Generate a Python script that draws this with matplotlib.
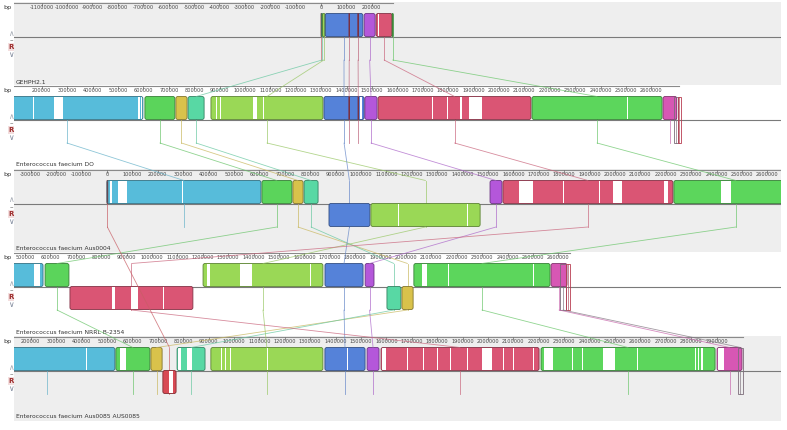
"""Mauve-style LCB alignment view of five Enterococcus genomes."""

import matplotlib

matplotlib.use("Agg")
import matplotlib.pyplot as plt
from matplotlib.colors import to_rgb
from matplotlib.patches import ConnectionPatch, FancyBboxPatch, Rectangle
from matplotlib.transforms import Bbox, TransformedBbox

# ---- data (kb) -------------------------------------------------------------
GENOME_NAMES = [
    "GEHPH2.1",
    "Enterococcus faecium DO",
    "Enterococcus faecium Aus0004",
    "Enterococcus faecium NRRL B-2354",
    "Enterococcus faecium Aus0085 AUS0085",
]
GENOME_LEN_KB = [285, 2710, 2955, 2645, 3004]
VIEW_START_KB = [-1208.7, 90.6, -366.1, 456.7, 133.9]
RULER_KB = [
    list(range(-1100, 201, 100)),
    list(range(200, 2601, 100)),
    list(range(-300, 2601, 100)),
    list(range(500, 2601, 100)),
    list(range(200, 2901, 100)),
]

LCB_COLORS = {
    "cyan": "#57bcda",
    "green": "#5bd45b",
    "yellow": "#d9c24b",
    "teal": "#58d8a4",
    "lime": "#9ad856",
    "blue": "#5582d9",
    "purple": "#b457da",
    "red": "#da5574",
    "green2": "#5cd65c",
    "magenta": "#d757b4",
    "red0": "#d8505a",
    "red2": "#d84a54",
    "tick1": "#c8506e",
    "tick2": "#c8506e",
    "box1": "#7c6c7a",
    "box2": "#b83c50",
}

# (lcb, start_kb, end_kb, strand)   strand 0 = small outlined block
GEHPH_BLOCKS = [
    ("red0", 0, 2, 1), ("teal", 2, 6, 1), ("lime", 6, 16, 1),
    ("blue", 16, 165, 1), ("tick1", 110, 112, 1), ("tick2", 145, 147, 1),
    ("purple", 170, 213, 1), ("red", 217, 280, 1), ("green2", 280, 284, 1),
]
DO_BLOCKS = [
    ("cyan", 0, 598, 1), ("green", 606, 724, 1), ("yellow", 728, 772, 1),
    ("teal", 776, 839, 1), ("lime", 866, 1307, 1), ("blue", 1311, 1469, 1),
    ("tick1", 1409, 1411, 1), ("tick2", 1445, 1447, 1),
    ("purple", 1472, 1520, 1), ("red", 1524, 2126, 1), ("green2", 2130, 2642, 1),
    ("magenta", 2646, 2700, 1), ("box1", 2690, 2703, 0), ("box2", 2703, 2716, 0),
]
AUS0004_BLOCKS = [
    ("red2", 0, 3, 1), ("cyan", 0, 606, 1), ("green", 610, 728, 1),
    ("yellow", 732, 772, 1), ("teal", 776, 831, 1), ("blue", 874, 1035, -1),
    ("lime", 1039, 1469, -1), ("purple", 1508, 1555, 1), ("red", 1559, 2228, 1),
    ("green2", 2232, 2720, 1), ("magenta", 2725, 2790, 1),
    ("box1", 2790, 2800, 0), ("box2", 2800, 2810, 0),
]
NRRL_BLOCKS = [
    ("cyan", 0, 571, 1), ("green", 579, 673, 1), ("red", 677, 1161, -1),
    ("lime", 1201, 1673, 1), ("blue", 1681, 1831, 1), ("purple", 1839, 1874, 1),
    ("teal", 1925, 1980, -1), ("yellow", 1984, 2028, -1), ("green2", 2031, 2567, 1),
    ("magenta", 2571, 2634, 1), ("box1", 2606, 2630, 0), ("box2", 2630, 2646, 0),
]
AUS0085_BLOCKS = [
    ("cyan", 0, 531, 1), ("green", 535, 669, 1), ("yellow", 673, 717, 1),
    ("red2", 720, 772, -1), ("teal", 776, 886, 1), ("lime", 909, 1350, 1),
    ("blue", 1358, 1516, 1), ("purple", 1524, 1571, 1), ("red", 1579, 2201, 1),
    ("green2", 2209, 2894, 1), ("magenta", 2902, 3000, 1), ("box1", 2984, 3004, 0),
]

# low-similarity (white) stretches inside blocks
GEHPH_GAPS = [(224, 229)]
DO_GAPS = [
    (165, 168), (248, 283), (579, 586), (590, 595), (886, 890), (902, 905),
    (1031, 1047), (1071, 1074), (1453, 1460), (1736, 1739), (1795, 1798),
    (1846, 1853), (1882, 1933), (2504, 2507),
]
AUS0004_GAPS = [
    (12, 20), (43, 79), (295, 299), (1146, 1150), (1417, 1420), (1428, 1431),
    (1622, 1677), (1795, 1798), (1937, 1940), (1992, 2028), (2193, 2209),
    (2417, 2457),
]
NRRL_GAPS = [
    (535, 559), (843, 854), (917, 945), (1043, 1047), (1217, 1228),
    (1346, 1394), (1622, 1626), (2063, 2083), (2165, 2168), (2500, 2503),
]
AUS0085_GAPS = [
    (417, 420), (551, 575), (744, 760), (780, 791), (815, 835), (949, 952),
    (965, 968), (984, 987), (1130, 1133), (1445, 1448), (1581, 1600),
    (1681, 1684), (1744, 1747), (1799, 1802), (1850, 1853), (1917, 1920),
    (1976, 2016), (2059, 2062), (2098, 2101), (2177, 2180), (2220, 2256),
    (2331, 2334), (2370, 2373), (2453, 2500), (2587, 2590), (2815, 2819),
    (2826, 2830), (2840, 2846), (2906, 2929),
]

BLOCKS = [GEHPH_BLOCKS, DO_BLOCKS, AUS0004_BLOCKS, NRRL_BLOCKS, AUS0085_BLOCKS]
GAPS = [GEHPH_GAPS, DO_GAPS, AUS0004_GAPS, NRRL_GAPS, AUS0085_GAPS]

# ---- layout (pixels) -------------------------------------------------------
W_PX, H_PX, DPI = 787, 430, 100
PX_PER_KB = 0.254
LEFT_PX, RIGHT_PX = 14, 781
PANEL_TOPS_PX = [3, 86, 170, 253, 337]
PANEL_BG = ["#eeeeee", "#ffffff", "#eeeeee", "#ffffff", "#eeeeee"]
UP_Y0, MID_Y, LOW_Y1 = 10.5, 33.5, 56.5
LINE_Y0, LINE_Y1 = 10.5, 57.0
CORNER_KB = 2.0 / PX_PER_KB


def darker(c, f=0.6):
    r, g, b = to_rgb(c)
    return (r * f, g * f, b * f)


def softer(c, f=0.25):
    r, g, b = to_rgb(c)
    return (r + (0.6 - r) * f, g + (0.6 - g) * f, b + (0.6 - b) * f)


fig = plt.figure(figsize=(W_PX / DPI, H_PX / DPI), dpi=DPI)
fig.patch.set_facecolor("white")
plt.rcParams["font.family"] = ["DejaVu Sans"]

view_kb = (RIGHT_PX - LEFT_PX) / PX_PER_KB
axes = []
for gi, top in enumerate(PANEL_TOPS_PX):
    ax = fig.add_axes([LEFT_PX / W_PX, 1 - (top + 84) / H_PX,
                       (RIGHT_PX - LEFT_PX) / W_PX, 85 / H_PX])
    ax.set_xlim(VIEW_START_KB[gi], VIEW_START_KB[gi] + view_kb)
    ax.set_ylim(84, -1)
    ax.set_facecolor(PANEL_BG[gi])
    ax.set_xticks([])
    ax.set_yticks([])
    for sp in ax.spines.values():
        sp.set_visible(False)
    axes.append(ax)

    # ruler
    ax.plot([VIEW_START_KB[gi], GENOME_LEN_KB[gi]], [0, 0], color="#8a8a8a", lw=0.8)
    ax.vlines(RULER_KB[gi], 0, 2.5, color="#666666", lw=0.5)
    for k in RULER_KB[gi]:
        ax.text(k, 4.6, f"{k * 1000}", ha="center", va="center", fontsize=3.6,
                color="#444444", clip_on=True)
    # centre line
    ax.axhline(MID_Y, color="#7a7a7a", lw=0.8, zorder=1)
    ax.text(0.002, 79, GENOME_NAMES[gi], transform=ax.get_yaxis_transform(),
            fontsize=4.3, color="#333333", va="center", ha="left")

    # blocks
    for lcb, s, e, strand in BLOCKS[gi]:
        color = LCB_COLORS[lcb]
        if strand == 0:
            ax.add_patch(Rectangle((s, UP_Y0), e - s, LOW_Y1 - UP_Y0, fill=False,
                                   ec=color, lw=0.6, zorder=5))
            continue
        y0 = UP_Y0 if strand > 0 else MID_Y
        h = MID_Y - UP_Y0
        r = min(CORNER_KB, (e - s) / 2)
        style = f"round,pad=0,rounding_size={r}"
        ax.add_patch(FancyBboxPatch((s, y0), e - s, h, boxstyle=style,
                                    mutation_aspect=PX_PER_KB, fc=color, ec="none",
                                    zorder=2))
        for g0, g1 in GAPS[gi]:
            if g0 >= s and g1 <= e:
                ax.add_patch(Rectangle((g0, y0 + 0.7), g1 - g0, h - 1.4, fc="white",
                                       ec="none", zorder=2.5))
        ax.add_patch(FancyBboxPatch((s, y0), e - s, h, boxstyle=style,
                                    mutation_aspect=PX_PER_KB, fill=False,
                                    ec=darker(color), lw=0.6, zorder=3))

# connection lines between homologous blocks
clip = TransformedBbox(Bbox.from_extents(LEFT_PX / W_PX, 0, RIGHT_PX / W_PX, 1),
                       fig.transFigure)
for lcb, color in LCB_COLORS.items():
    hits = []
    for gi, blocks in enumerate(BLOCKS):
        for name, s, e, strand in blocks:
            if name == lcb:
                hits.append((gi, (s + e) / 2))
    lc = softer(color)
    for gi, c in hits:
        axes[gi].plot([c, c], [LINE_Y0, LINE_Y1], color=lc, lw=0.6, alpha=0.8,
                      zorder=1.5)
    for (ga, ca), (gb, cb) in zip(hits[:-1], hits[1:]):
        con = ConnectionPatch(xyA=(ca, LINE_Y1), coordsA="data", axesA=axes[ga],
                              xyB=(cb, LINE_Y0), coordsB="data", axesB=axes[gb],
                              color=lc, lw=0.6, alpha=0.75, annotation_clip=False)
        fig.add_artist(con)
        con.set_clip_box(clip)
        con.set_clip_on(True)

# left strip: unit label and panel controls
for top in PANEL_TOPS_PX:
    def fy(y):
        return 1 - (top + y) / H_PX
    fig.text(3 / W_PX, fy(4.6), "bp", fontsize=4.6, color="#333333", va="center")
    fig.text(11 / W_PX, fy(30), "\u2227", fontsize=5.5, color="#a0a6b0",
             ha="center", va="center")
    fig.text(11 / W_PX, fy(37), "\u2013", fontsize=5, color="#555555",
             ha="center", va="center")
    fig.text(11 / W_PX, fy(44), "R", fontsize=5, color="#9c2c2c", weight="bold",
             ha="center", va="center",
             bbox=dict(boxstyle="square,pad=0.1", fc="#f3dede", ec="none"))
    fig.text(11 / W_PX, fy(51.5), "\u2228", fontsize=5.5, color="#7c869a",
             ha="center", va="center")

fig.savefig("out.png", dpi=DPI)
